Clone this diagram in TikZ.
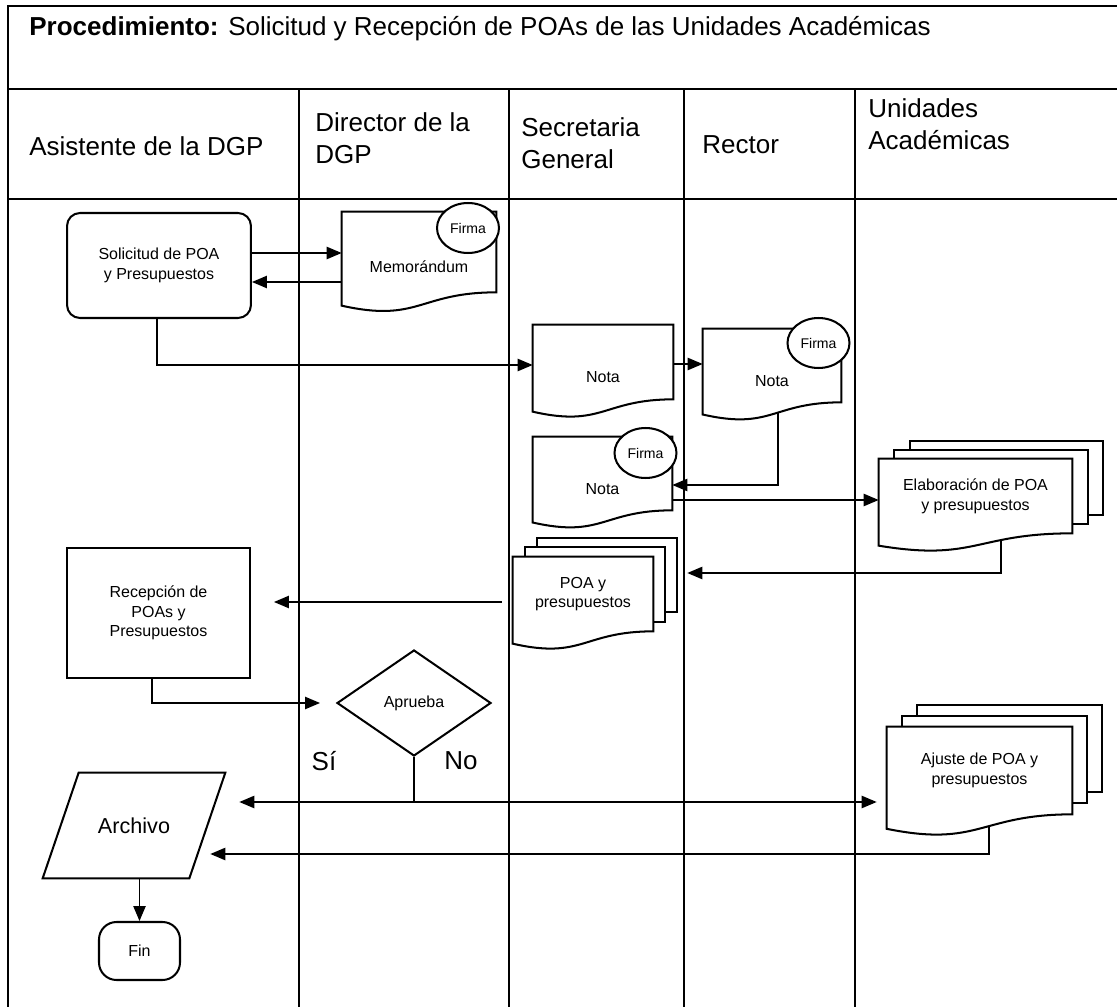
\documentclass[tikz,border=0pt]{standalone}
\usepackage{fontspec}
\setmainfont{Liberation Sans}
\usetikzlibrary{arrows.meta,calc,shapes.geometric,backgrounds}
\newcommand{\smf}{\fontsize{9.1}{11.2}\selectfont}
\newcommand{\midf}{\fontsize{12.3}{15}\selectfont}
\newcommand{\bigf}{\fontsize{14.8}{18.5}\selectfont}
% wavy bottom of a document, hung under its body node
\newcommand{\docwave}[1]{%
  \draw[shp,fill=white] (#1.north west) -- (#1.north east) -- (#1.south east)
    .. controls (#1.south) and ($(#1.north)!1.38!(#1.south)$)
    .. ($(#1.north west)!1.165!(#1.south west)$) -- cycle;}
% two sheets behind a document
\newcommand{\sheets}[3]{%
  \foreach \k in {2,1}
    \draw[shp,fill=white] ($(#1.north west)+(\k*#2,\k*#3)$)
      rectangle ($(#1.south east)+(\k*#2,\k*#3)$);}
% slanted sides round a body node
\newcommand{\slant}[2]{%
  \draw[shp] ($(#1.south west)+(-#2,0)$) -- ($(#1.south east)+(-#2,0)$)
    -- ($(#1.north east)+(#2,0)$) -- ($(#1.north west)+(#2,0)$) -- cycle;}
\tikzset{
  shp/.style={line width=1.15pt},
  grid/.style={line width=0.7pt},
  arr/.style={line width=0.75pt,-{Triangle[length=8.5pt,width=7pt]}},
  txt/.style={inner sep=0pt,align=left,font=\bigf},
  box/.style={shp,draw,align=center,font=\smf},
  docbody/.style={inner sep=0pt,align=center,font=\smf},
  onedoc/.style={docbody,text height=23.8pt},
  firma/.style={shp,draw,fill=white,ellipse,inner sep=0pt,
    minimum width=1.24cm,minimum height=1cm,font=\fontsize{8}{9}\selectfont}
}
\begin{document}
\begin{tikzpicture}[x=0.02cm,y=-0.02cm]
  \useasboundingbox (0,0) rectangle (1117,1007);
  % heading
  \node[txt,anchor=base west] (title) at (29,36)
    {\textbf{Procedimiento:} Solicitud y Recepción de POAs de las Unidades Académicas};
  \node[txt,anchor=west] (asis) at (29,146) {Asistente de la DGP};
  \node[txt,anchor=west] (dir) at (315,138) {Director de la\\DGP};
  \node[txt,anchor=west] (sec) at (521,143) {Secretaria\\General};
  \node[txt,anchor=west] (rect) at (702,145) {Rector};
  \node[txt,anchor=west] (uni) at (868,124) {Unidades\\Académicas};
  % shapes
  \node[box,rounded corners=0.26cm,minimum width=3.68cm,minimum height=2.1cm] (sol)
    at (159,265.5) {Solicitud de POA\\y Presupuestos};
  \node[onedoc,minimum width=3.08cm,minimum height=1.6cm] (memo) at (419,252) {Memorándum};
  \node[onedoc,minimum width=2.8cm,minimum height=1.48cm] (nota1) at (603,362) {Nota};
  \node[onedoc,minimum width=2.76cm,minimum height=1.46cm] (nota2) at (772,365.5) {Nota};
  \node[onedoc,minimum width=2.78cm,minimum height=1.46cm] (nota3) at (602.5,473.5) {Nota};
  \node[docbody,minimum width=3.86cm,minimum height=1.48cm] (elab) at (975.5,496)
    {Elaboración de POA\\y presupuestos};
  \node[docbody,minimum width=2.8cm,minimum height=1.48cm] (poa) at (583,594)
    {POA y\\presupuestos};
  \node[docbody,minimum width=3.7cm,minimum height=1.74cm] (ajus) at (979.5,770.5)
    {Ajuste de POA y\\presupuestos};
  \node[firma] (f1) at (468,228) {Firma};
  \node[firma] (f2) at (818.5,343) {Firma};
  \node[firma] (f3) at (645.5,453) {Firma};
  \node[box,minimum width=3.66cm,minimum height=2.6cm] (recep) at (158.5,613)
    {Recepción de\\POAs y\\Presupuestos};
  \node[box,diamond,aspect=1.45,inner sep=0pt,minimum width=3.08cm,minimum height=2.12cm] (apr)
    at (414,703) {Aprueba};
  \node[inner sep=0pt,minimum width=2.92cm,minimum height=2.1cm,font=\midf] (arch)
    at (134,825.5) {Archivo};
  \node[box,rounded corners=0.35cm,minimum width=1.62cm,minimum height=1.16cm] (fin)
    at (139.5,951) {Fin};
  \node[txt] (si) at (324,761) {Sí};
  \node[txt] (no) at (461,761) {No};
  \coordinate (split) at (414,802);
  \begin{scope}[on background layer]
    % lanes
    \draw[grid] (8,1007) -- (8,6) -- (1117,6);
    \draw[grid] (8,89) -- (1117,89);
    \draw[grid] (8,199) -- (1117,199);
    \foreach \x in {299,509,684,855}
      \draw[grid] (\x,89) -- (\x,1007);
    % flow
    \draw[arr] (sol.east |- 0,253) -- (memo.west |- 0,253);
    \draw[arr] (memo.west |- 0,282) -- (sol.east |- 0,282);
    \draw[arr] (sol.south -| 157,0) |- (nota1.west |- 0,365);
    \draw[arr] (nota1.east |- 0,364) -- (nota2.west |- 0,364);
    \draw[arr] (nota2.south -| 778,0) |- (nota3.east |- 0,485);
    \draw[arr] (nota3.east |- 0,500) -- (elab.west |- 0,500);
    \draw[arr,shorten >=0.68cm] (elab.south -| 1001,0) |- (poa.east |- 0,573);
    \draw[arr,shorten <=0.22cm,shorten >=0.46cm] (poa.west |- 0,602) -- (recep.east |- 0,602);
    \draw[arr,shorten >=0.32cm] (recep.south -| 152,0) |- (apr.west);
    \draw[line width=1.6pt] (apr.south) -- (split);
    \draw[arr,shorten >=0.64cm] (split) -- (arch.east |- split);
    \draw[arr,shorten >=0.2cm] (split) -- (ajus.west |- split);
    \draw[arr,shorten >=0.06cm] (ajus.south -| 989,0) |- (arch.east |- 0,854);
    \draw[arr] (arch.south -| fin.north) -- (fin.north);
    % documents
    \docwave{memo}
    \docwave{nota1}
    \docwave{nota2}
    \docwave{nota3}
    \sheets{elab}{15.5}{-9}
    \docwave{elab}
    \sheets{poa}{12}{-9.5}
    \docwave{poa}
    \sheets{ajus}{15}{-11}
    \docwave{ajus}
    \slant{arch}{18}
  \end{scope}
\end{tikzpicture}
\end{document}
